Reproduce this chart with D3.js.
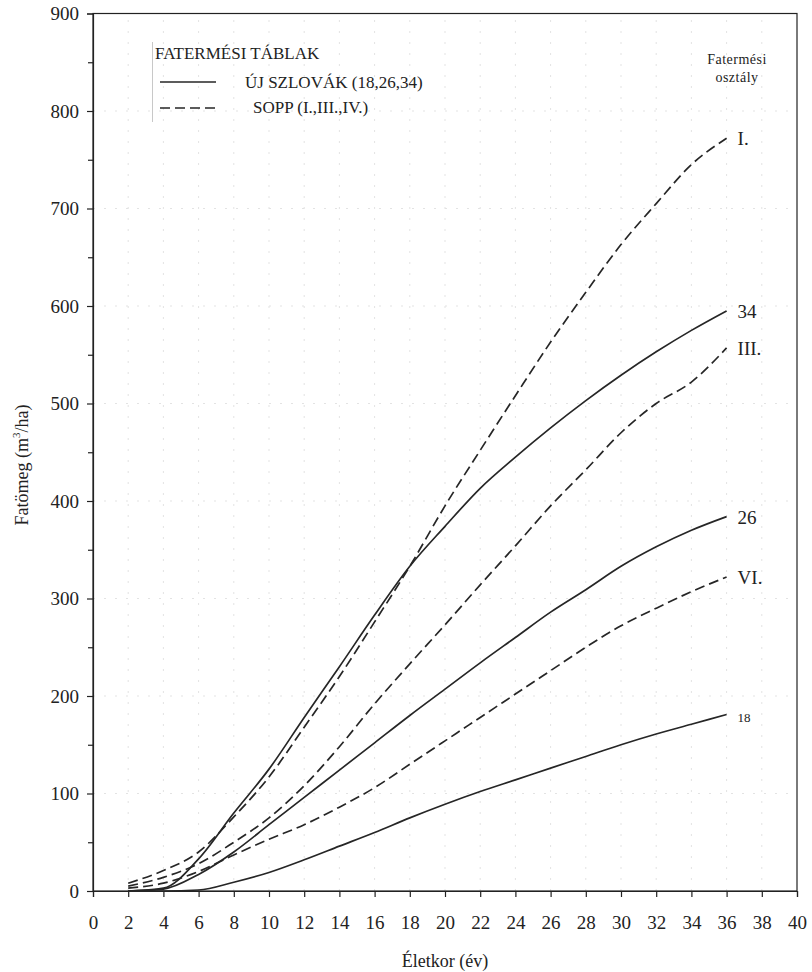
<!DOCTYPE html>
<html>
<head>
<meta charset="utf-8">
<script src="https://cdn.jsdelivr.net/npm/d3@7"></script>
<style>
  html, body { margin: 0; padding: 0; background: #fff; }
  svg { display: block; font-family: "Liberation Serif", "Times New Roman", serif; }
  .axis path, .axis line { stroke: #222; stroke-width: 1.2; }
  .axis text { font-family: "Liberation Serif", "Times New Roman", serif; font-size: 19px; fill: #222; }
</style>
</head>
<body>
<svg id="chart" width="812" height="972"></svg>
<script>
// Ages (years)
const ages = [2, 4, 6, 8, 10, 12, 14, 16, 18, 20, 22, 24, 26, 28, 30, 32, 34, 36];

// Új szlovák yield tables, site indices 34, 26, 18 (m3/ha)
const uj34 = [0, 3, 33, 80, 125, 178, 230, 283, 333, 374, 413, 445, 475, 503, 529, 553, 575, 595];
const uj26 = [0, 2, 17, 40, 68, 96, 124, 152, 180, 207, 234, 260, 286, 309, 333, 353, 370, 384];
const uj18 = [0, 0, 1, 9, 19, 32, 46, 60, 75, 89, 102, 114, 126, 138, 150, 161, 171, 181];

// Sopp yield tables, classes I., III., VI. (m3/ha)
const soppI   = [8, 21, 40, 76, 117, 168, 220, 276, 333, 395, 452, 508, 563, 614, 663, 705, 745, 772];
const soppIII = [5, 14, 28, 50, 75, 108, 148, 192, 233, 273, 314, 354, 395, 432, 470, 500, 522, 557];
const soppVI  = [3, 8, 20, 37, 53, 68, 86, 106, 130, 154, 178, 202, 226, 250, 272, 290, 307, 322];

const seriesNames  = ["34", "26", "18", "I.", "III.", "VI."];
const seriesValues = [uj34, uj26, uj18, soppI, soppIII, soppVI];
const seriesDashed = [false, false, false, true, true, true];

const xTicks = d3.range(0, 41, 2);
const yTicks = d3.range(0, 901, 100);
const yMinorTicks = d3.range(50, 900, 100);

const legendTitle = "FATERMÉSI TÁBLAK";
const legendItems = ["ÚJ SZLOVÁK (18,26,34)", "SOPP (I.,III.,IV.)"];

const svg = d3.select("#chart");
const margin = { left: 93, right: 15, top: 13.5, bottom: 81 };
const W = 812, H = 972;

const x = d3.scaleLinear().domain([0, 40]).range([margin.left, W - margin.right]);
const y = d3.scaleLinear().domain([0, 900]).range([H - margin.bottom, margin.top]);

// faint dotted grid
const grid = svg.append("g").attr("stroke", "#e3e3e3").attr("stroke-width", 1).attr("stroke-dasharray", "2,9");
grid.selectAll("line.h").data(yTicks.slice(1, -1)).join("line")
  .attr("x1", x(0)).attr("x2", x(40)).attr("y1", d => y(d)).attr("y2", d => y(d));
grid.selectAll("line.v").data(xTicks.slice(1, -1)).join("line")
  .attr("y1", y(0)).attr("y2", y(900)).attr("x1", d => x(d)).attr("x2", d => x(d));

// frame
svg.append("rect")
  .attr("x", x(0)).attr("y", y(900))
  .attr("width", x(40) - x(0)).attr("height", y(0) - y(900))
  .attr("fill", "none").attr("stroke", "#222").attr("stroke-width", 1.2);

// axes
svg.append("g").attr("class", "axis")
  .attr("transform", `translate(0,${y(0)})`)
  .call(d3.axisBottom(x).tickValues(xTicks).tickSize(6).tickPadding(19).tickFormat(d3.format("d")));

svg.append("g").attr("class", "axis")
  .attr("transform", `translate(${x(0)},0)`)
  .call(d3.axisLeft(y).tickValues(yTicks).tickSize(6).tickPadding(8).tickFormat(d3.format("d")));

svg.append("g").attr("class", "axis")
  .attr("transform", `translate(${x(0)},0)`)
  .call(d3.axisLeft(y).tickValues(yMinorTicks).tickSize(5).tickFormat(""))
  .call(g => g.select(".domain").remove());

// axis titles
svg.append("text")
  .attr("x", (x(0) + x(40)) / 2).attr("y", 967)
  .attr("text-anchor", "middle").attr("font-size", 18).attr("fill", "#222")
  .text("Életkor (év)");

const yTitle = svg.append("text")
  .attr("transform", `translate(28,465) rotate(-90)`)
  .attr("text-anchor", "middle").attr("font-size", 18).attr("fill", "#222");
yTitle.append("tspan").text("Fatömeg (m");
yTitle.append("tspan").attr("font-size", 11).attr("dy", -8).text("3");
yTitle.append("tspan").attr("dy", 8).text("/ha)");

// curves
const line = d3.line()
  .x((d, i) => x(ages[i]))
  .y(d => y(d))
  .curve(d3.curveMonotoneX);

svg.append("g").selectAll("path").data(seriesValues).join("path")
  .attr("d", d => line(d))
  .attr("fill", "none")
  .attr("stroke", "#262626")
  .attr("stroke-width", 1.7)
  .attr("stroke-dasharray", (d, i) => seriesDashed[i] ? "10,5" : null);

// end labels
svg.append("g").selectAll("text").data(seriesValues).join("text")
  .attr("x", x(ages[ages.length - 1]) + 11)
  .attr("y", d => y(d[d.length - 1]) + 7)
  .attr("font-size", (d, i) => seriesNames[i] === "18" ? 13 : 19)
  .attr("fill", "#222")
  .text((d, i) => seriesNames[i]);

svg.append("text").attr("x", 737).attr("y", 64).attr("text-anchor", "middle")
  .attr("font-size", 14).attr("letter-spacing", 0.5).attr("fill", "#222").text("Fatermési");
svg.append("text").attr("x", 737).attr("y", 82).attr("text-anchor", "middle")
  .attr("font-size", 14).attr("letter-spacing", 0.5).attr("fill", "#222").text("osztály");

// legend
const lg = svg.append("g");
lg.append("line").attr("x1", 152.5).attr("x2", 152.5).attr("y1", 42).attr("y2", 122)
  .attr("stroke", "#c8c8c8").attr("stroke-width", 1);
lg.append("text").attr("x", 155).attr("y", 59).attr("font-size", 17).attr("fill", "#222").text(legendTitle);
lg.append("line").attr("x1", 160).attr("x2", 216).attr("y1", 82).attr("y2", 82)
  .attr("stroke", "#262626").attr("stroke-width", 1.5);
lg.append("text").attr("x", 245).attr("y", 88).attr("font-size", 17).attr("fill", "#222").text(legendItems[0]);
lg.append("line").attr("x1", 160).attr("x2", 216).attr("y1", 108).attr("y2", 108)
  .attr("stroke", "#262626").attr("stroke-width", 1.5).attr("stroke-dasharray", "10,5");
lg.append("text").attr("x", 253).attr("y", 113).attr("font-size", 17).attr("fill", "#222").text(legendItems[1]);
</script>
</body>
</html>
